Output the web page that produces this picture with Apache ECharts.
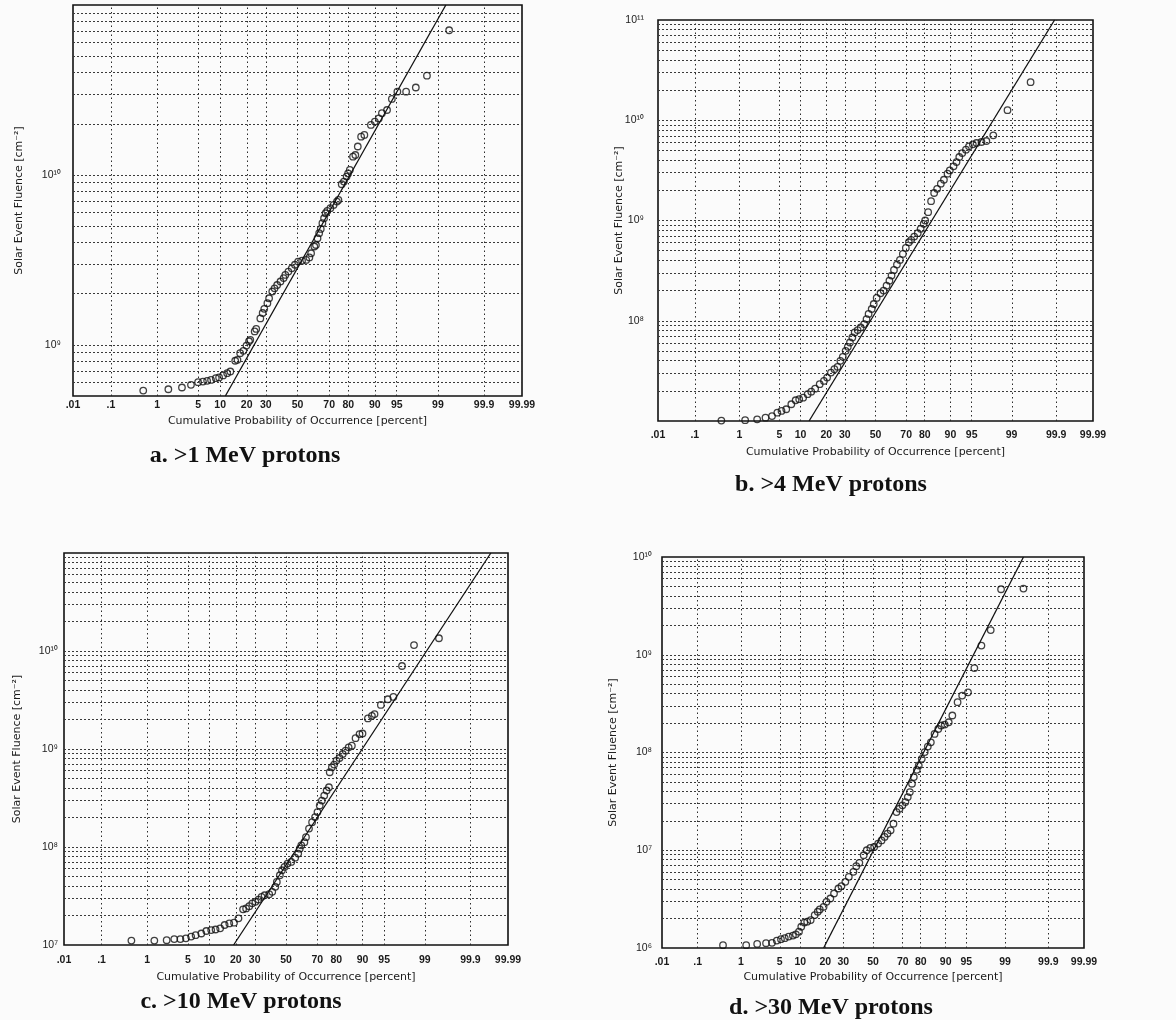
<!DOCTYPE html>
<html>
<head>
<meta charset="utf-8">
<title>Solar event fluence - cumulative probability</title>
<script src="https://cdn.jsdelivr.net/npm/echarts@6/dist/echarts.min.js"></script>
<style>
    html, body {
        margin: 0;
        padding: 0;
        background: #fbfbfb;
    }

    #chart {
        width: 1176px;
        height: 1020px;
    }
</style>
</head>
<body>
<div id="chart"></div>
<script>
    // probability paper ticks (percent) and their labels
    const tickPercents = [0.01, 0.1, 1, 5, 10, 20, 30, 50, 70, 80, 90, 95, 99, 99.9, 99.99];
    const tickLabels = ['.01', '.1', '1', '5', '10', '20', '30', '50', '70', '80', '90', '95', '99', '99.9', '99.99'];

    // a. >1 MeV protons
    const probA = [0.53, 1.62, 2.78, 3.88, 4.98, 5.86, 6.72, 7.6, 8.8, 9.7, 10.9, 12.2, 13.3, 15.1, 16.0, 17.1, 18.5, 19.9, 21.1, 21.7,
        23.9, 24.7, 26.9, 28.2, 29.1, 30.9, 31.9, 33.8, 35.2, 36.8, 38.9, 40.9, 42.0, 44.0, 46.2, 48.3, 50.4, 53.0, 55.7, 57.8,
        58.9, 61.0, 62.0, 63.0, 64.0, 65.0, 66.0, 67.0, 67.9, 68.9, 70.7, 72.5, 74.3, 75.1, 76.8, 77.9, 79.2, 79.9, 80.7, 82.1,
        83.1, 84.1, 85.4, 86.6, 88.8, 90.0, 91.1, 91.9, 93.1, 94.1, 95.1, 96.4, 97.5, 98.4, 99.4];
    const fluenceA = [5.38e8, 5.48e8, 5.61e8, 5.82e8, 6.03e8, 6.08e8, 6.14e8, 6.22e8, 6.37e8, 6.43e8, 6.61e8, 6.81e8, 6.97e8, 8.06e8, 8.16e8, 8.93e8, 9.22e8, 9.9e8, 1.05e9, 1.07e9,
        1.20e9, 1.24e9, 1.43e9, 1.54e9, 1.63e9, 1.76e9, 1.88e9, 2.06e9, 2.15e9, 2.25e9, 2.36e9, 2.47e9, 2.58e9, 2.70e9, 2.82e9, 2.96e9, 3.09e9, 3.13e9, 3.16e9, 3.27e9,
        3.46e9, 3.79e9, 3.87e9, 4.24e9, 4.54e9, 4.81e9, 5.20e9, 5.56e9, 5.95e9, 6.14e9, 6.37e9, 6.66e9, 6.97e9, 7.13e9, 8.81e9, 9.14e9, 9.78e9, 1.02e10, 1.07e10, 1.28e10,
        1.31e10, 1.47e10, 1.68e10, 1.72e10, 1.97e10, 2.06e10, 2.15e10, 2.31e10, 2.41e10, 2.80e10, 3.09e10, 3.09e10, 3.27e10, 3.84e10, 7.1e10];
    const fitProbA = [11.6, 99.3];
    const fitFluenceA = [5e8, 1e11];

    // b. >4 MeV protons
    const probB = [0.42, 1.29, 2.15, 3.0, 3.84, 4.66, 5.4, 6.35, 7.5, 8.6, 9.6, 10.8, 12.3, 13.6, 15.1, 17.0, 18.9, 20.4, 22.3, 24.1,
        25.8, 27.4, 28.8, 30.5, 31.8, 33.1, 34.6, 36.1, 38.0, 40.0, 42.3, 43.9, 45.3, 47.4, 48.8, 50.8, 53.4, 55.5, 57.5, 59.4,
        60.8, 62.4, 64.3, 66.2, 68.0, 69.8, 71.6, 72.9, 74.6, 76.5, 78.0, 79.5, 80.2, 81.6, 82.9, 84.2, 85.4, 86.8, 87.9, 89.1,
        89.8, 90.9, 91.7, 92.4, 93.1, 93.9, 94.5, 95.2, 95.8, 96.5, 97.1, 97.8, 98.8, 99.6];
    const fluenceB = [1.01e7, 1.02e7, 1.04e7, 1.08e7, 1.12e7, 1.21e7, 1.26e7, 1.31e7, 1.47e7, 1.61e7, 1.65e7, 1.71e7, 1.85e7, 1.96e7, 2.1e7, 2.33e7, 2.51e7, 2.71e7, 3.04e7, 3.29e7,
        3.47e7, 3.98e7, 4.37e7, 5.01e7, 5.5e7, 6.07e7, 6.81e7, 7.64e7, 8.07e7, 8.58e7, 9.26e7, 1.04e8, 1.17e8, 1.31e8, 1.47e8, 1.69e8, 1.88e8, 2.0e8, 2.24e8, 2.51e8,
        2.82e8, 3.21e8, 3.63e8, 4.04e8, 4.64e8, 5.33e8, 6.07e8, 6.41e8, 6.92e8, 7.47e8, 8.26e8, 9.26e8, 1.0e9, 1.21e9, 1.56e9, 1.88e9, 2.07e9, 2.33e9, 2.55e9, 2.93e9,
        3.16e9, 3.47e9, 3.83e9, 4.30e9, 4.71e9, 5.09e9, 5.5e9, 5.75e9, 5.93e9, 6.07e9, 6.21e9, 7.08e9, 1.26e10, 2.4e10];
    const fitProbB = [12.8, 99.89];
    const fitFluenceB = [1e7, 1e11];

    // c. >10 MeV protons
    const probC = [0.48, 1.37, 2.28, 3.06, 3.84, 4.68, 5.6, 6.5, 7.8, 9.1, 10.5, 11.9, 13.5, 15.2, 17.1, 19.2, 21.3, 23.6, 25.2, 26.9,
        28.6, 30.4, 32.2, 34.1, 36.0, 38.9, 40.9, 42.9, 43.9, 45.9, 47.3, 49.0, 51.0, 53.5, 56.1, 58.1, 59.1, 60.1, 62.1, 63.1,
        65.0, 66.9, 68.7, 70.1, 71.4, 72.6, 73.9, 75.2, 76.4, 76.8, 77.9, 79.0, 80.1, 81.5, 82.9, 84.1, 85.3, 86.5, 87.8, 89.1,
        90.0, 91.5, 92.5, 93.1, 94.4, 95.6, 96.4, 97.4, 98.4, 99.48];
    const fluenceC = [1.11e7, 1.11e7, 1.12e7, 1.15e7, 1.15e7, 1.17e7, 1.22e7, 1.26e7, 1.31e7, 1.39e7, 1.42e7, 1.44e7, 1.48e7, 1.60e7, 1.66e7, 1.69e7, 1.87e7, 2.31e7, 2.36e7, 2.49e7,
        2.66e7, 2.76e7, 2.91e7, 3.10e7, 3.22e7, 3.30e7, 3.49e7, 3.92e7, 4.40e7, 5.15e7, 5.79e7, 6.26e7, 6.78e7, 7.04e7, 7.79e7, 8.56e7, 9.62e7, 1.04e8, 1.12e8, 1.26e8,
        1.54e8, 1.79e8, 2.02e8, 2.27e8, 2.65e8, 2.98e8, 3.35e8, 3.77e8, 4.07e8, 5.79e8, 6.51e8, 6.93e8, 7.61e8, 8.09e8, 8.89e8, 9.61e8, 1.04e9, 1.08e9, 1.29e9, 1.42e9,
        1.44e9, 2.05e9, 2.18e9, 2.27e9, 2.82e9, 3.22e9, 3.40e9, 7.03e9, 1.15e10, 1.35e10];
    const fitProbC = [19, 99.97];
    const fitFluenceC = [1e7, 1e11];

    // d. >30 MeV protons
    const probD = [0.41, 1.27, 2.06, 2.97, 3.75, 4.5, 5.24, 6.0, 6.87, 7.9, 8.7, 9.6, 10.3, 11.3, 12.3, 13.6, 15.2, 16.5, 17.4, 19.2,
        20.6, 22.6, 24.6, 27.1, 28.9, 31.3, 33.5, 36.5, 38.4, 40.5, 43.5, 45.6, 48.1, 50.8, 53.6, 56.0, 58.1, 60.1, 62.2, 64.1,
        66.1, 68.0, 69.8, 71.6, 73.0, 74.2, 75.4, 76.4, 78.0, 79.0, 80.5, 81.9, 83.3, 84.6, 86.1, 87.5, 88.5, 89.7, 90.9, 91.9,
        93.2, 94.2, 95.3, 96.3, 97.2, 98.1, 98.8, 99.6];
    const fluenceD = [1.07e6, 1.07e6, 1.10e6, 1.12e6, 1.13e6, 1.19e6, 1.23e6, 1.26e6, 1.31e6, 1.34e6, 1.38e6, 1.47e6, 1.65e6, 1.82e6, 1.86e6, 1.93e6, 2.17e6, 2.35e6, 2.48e6, 2.64e6,
        2.97e6, 3.21e6, 3.61e6, 4.06e6, 4.30e6, 4.75e6, 5.35e6, 6.01e6, 6.87e6, 7.43e6, 8.89e6, 1.0e7, 1.06e7, 1.08e7, 1.17e7, 1.26e7, 1.37e7, 1.48e7, 1.60e7, 1.87e7,
        2.46e7, 2.66e7, 2.88e7, 3.11e7, 3.50e7, 3.94e7, 4.79e7, 5.60e7, 6.65e7, 7.36e7, 8.61e7, 1.01e8, 1.15e8, 1.27e8, 1.55e8, 1.74e8, 1.89e8, 1.93e8, 2.04e8, 2.39e8,
        3.27e8, 3.82e8, 4.13e8, 7.31e8, 1.24e9, 1.79e9, 4.68e9, 4.75e9];
    const fitProbD = [19.2, 99.6];
    const fitFluenceD = [1e6, 1e10];

    // inverse normal cdf (Acklam), turns a cumulative probability into the linear position on probability paper
    function probit(p) {
        const a = [-3.969683028665376e+01, 2.209460984245205e+02, -2.759285104469687e+02, 1.383577518672690e+02, -3.066479806614716e+01, 2.506628277459239e+00];
        const b = [-5.447609879822406e+01, 1.615858368580409e+02, -1.556989798598866e+02, 6.680131188771972e+01, -1.328068155288572e+01];
        const c = [-7.784894002430293e-03, -3.223964580411365e-01, -2.400758277161838e+00, -2.549732539343734e+00, 4.374664141464968e+00, 2.938163982698783e+00];
        const d = [7.784695709041462e-03, 3.224671290700398e-01, 2.445134137142996e+00, 3.754408661907416e+00];
        const pl = 0.02425;
        let q, r;
        if (p < pl) {
            q = Math.sqrt(-2 * Math.log(p));
            return (((((c[0] * q + c[1]) * q + c[2]) * q + c[3]) * q + c[4]) * q + c[5]) / ((((d[0] * q + d[1]) * q + d[2]) * q + d[3]) * q + 1);
        }
        if (p > 1 - pl) {
            q = Math.sqrt(-2 * Math.log(1 - p));
            return -(((((c[0] * q + c[1]) * q + c[2]) * q + c[3]) * q + c[4]) * q + c[5]) / ((((d[0] * q + d[1]) * q + d[2]) * q + d[3]) * q + 1);
        }
        q = p - 0.5;
        r = q * q;
        return (((((a[0] * r + a[1]) * r + a[2]) * r + a[3]) * r + a[4]) * r + a[5]) * q / (((((b[0] * r + b[1]) * r + b[2]) * r + b[3]) * r + b[4]) * r + 1);
    }

    const tickZ = tickPercents.map(p => probit(p / 100));
    const zMin = tickZ[0];
    const zMax = tickZ[tickZ.length - 1];

    function probLabel(v) {
        for (let k = 0; k < tickZ.length; k++) {
            if (Math.abs(tickZ[k] - v) < 1e-6) return tickLabels[k];
        }
        return '';
    }

    const SUP = ['⁰', '¹', '²', '³', '⁴', '⁵', '⁶', '⁷', '⁸', '⁹'];
    function decadeLabel(v) {
        const e = Math.log10(v);
        const r = Math.round(e);
        if (Math.abs(e - r) > 1e-6) return '';
        return '10' + String(r).split('').map(ch => SUP[+ch]).join('');
    }

    function logGridValues(min, max) {
        const out = [];
        for (let e = Math.floor(Math.log10(min)); e <= Math.ceil(Math.log10(max)); e++) {
            for (let m = 1; m <= 9; m++) {
                const v = m * Math.pow(10, e);
                if (v > min * 1.001 && v < max * 0.999) out.push(v);
            }
        }
        return out;
    }

    const panels = [
        {prob: probA, fluence: fluenceA, fitProb: fitProbA, fitFluence: fitFluenceA, yMin: 5e8, yMax: 1e11,
            caption: 'a. >1 MeV protons', grid: {left: 73, top: 5, width: 449, height: 391},
            xLabelMargin: 4, xNameGap: 20, yLabelMargin: 12, yNameGap: 48, showMin: false, showMax: false, capX: 245, capY: 456},
        {prob: probB, fluence: fluenceB, fitProb: fitProbB, fitFluence: fitFluenceB, yMin: 1e7, yMax: 1e11,
            caption: 'b. >4 MeV protons', grid: {left: 658, top: 20, width: 435, height: 401},
            xLabelMargin: 9, xNameGap: 26, yLabelMargin: 14, yNameGap: 33, showMin: false, showMax: true, capX: 831, capY: 485},
        {prob: probC, fluence: fluenceC, fitProb: fitProbC, fitFluence: fitFluenceC, yMin: 1e7, yMax: 1e11,
            caption: 'c. >10 MeV protons', grid: {left: 64, top: 553, width: 444, height: 392},
            xLabelMargin: 10, xNameGap: 27, yLabelMargin: 6, yNameGap: 41, showMin: true, showMax: false, capX: 241, capY: 1002},
        {prob: probD, fluence: fluenceD, fitProb: fitProbD, fitFluence: fitFluenceD, yMin: 1e6, yMax: 1e10,
            caption: 'd. >30 MeV protons', grid: {left: 662, top: 557, width: 422, height: 391},
            xLabelMargin: 9, xNameGap: 24, yLabelMargin: 10, yNameGap: 43, showMin: true, showMax: true, capX: 831, capY: 1008}
    ];

    const smallFont = {fontFamily: 'DejaVu Sans', fontSize: 11, color: '#1a1a1a'};
    const tickFont = {fontFamily: 'Liberation Sans', fontSize: 10.5, fontWeight: 'bold', color: '#1a1a1a'};

    const grids = [], xAxes = [], yAxes = [], series = [], graphics = [];

    panels.forEach((p, i) => {
        grids.push(Object.assign({
            show: true,
            backgroundColor: 'transparent',
            borderColor: '#111',
            borderWidth: 1.6,
            containLabel: false,
            outerBoundsMode: 'none'
        }, p.grid));

        xAxes.push({
            gridIndex: i,
            type: 'value',
            min: zMin,
            max: zMax,
            axisLine: {show: false},
            axisTick: {show: false},
            splitLine: {show: false},
            axisLabel: Object.assign({
                customValues: tickZ,
                formatter: probLabel,
                margin: p.xLabelMargin,
                showMinLabel: true,
                showMaxLabel: true
            }, tickFont),
            name: 'Cumulative Probability of Occurrence [percent]',
            nameLocation: 'middle',
            nameGap: p.xNameGap,
            nameMoveOverlap: false,
            nameTextStyle: smallFont
        });

        yAxes.push({
            gridIndex: i,
            type: 'log',
            logBase: 10,
            min: p.yMin,
            max: p.yMax,
            axisLine: {show: false},
            axisTick: {show: false},
            splitLine: {show: false},
            axisLabel: Object.assign({
                formatter: decadeLabel,
                margin: p.yLabelMargin,
                showMinLabel: p.showMin,
                showMaxLabel: p.showMax
            }, tickFont, {fontWeight: 'normal', fontSize: 10.5}),
            name: 'Solar Event Fluence [cm⁻²]',
            nameLocation: 'middle',
            nameRotate: 90,
            nameGap: p.yNameGap,
            nameMoveOverlap: false,
            nameTextStyle: smallFont
        });

        const vLines = tickZ.slice(1, -1).map(z => ({
            xAxis: z,
            lineStyle: {type: [1.5, 3], color: '#2a2a2a', width: 1}
        }));
        const hLines = logGridValues(p.yMin, p.yMax).map(v => ({
            yAxis: v,
            lineStyle: {type: [2, 2], color: '#3a3a3a', width: 1}
        }));

        // fitted lognormal line, carries the paper's grid as markLines underneath
        series.push({
            type: 'line',
            xAxisIndex: i,
            yAxisIndex: i,
            data: p.fitProb.map((pr, k) => [probit(pr / 100), p.fitFluence[k]]),
            symbol: 'none',
            silent: true,
            z: 3,
            lineStyle: {color: '#111', width: 1.3},
            markLine: {
                silent: true,
                z: 1,
                symbol: ['none', 'none'],
                animation: false,
                label: {show: false},
                emphasis: {disabled: true},
                data: vLines.concat(hLines)
            }
        });

        series.push({
            type: 'scatter',
            xAxisIndex: i,
            yAxisIndex: i,
            data: p.prob.map((pr, k) => [probit(pr / 100), p.fluence[k]]),
            symbol: 'circle',
            symbolSize: 6.5,
            z: 4,
            itemStyle: {color: 'rgba(255,255,255,0)', borderColor: '#111', borderWidth: 1.3}
        });

        graphics.push({
            type: 'text',
            x: p.capX,
            y: p.capY,
            style: {
                text: p.caption,
                font: 'bold 24px "Liberation Serif", "Times New Roman", serif',
                fill: '#111',
                align: 'center',
                verticalAlign: 'middle'
            }
        });
    });

    const chart = echarts.init(document.getElementById('chart'));
    chart.setOption({
        backgroundColor: '#fbfbfb',
        animation: false,
        grid: grids,
        xAxis: xAxes,
        yAxis: yAxes,
        series: series,
        graphic: graphics
    });
</script>
</body>
</html>
